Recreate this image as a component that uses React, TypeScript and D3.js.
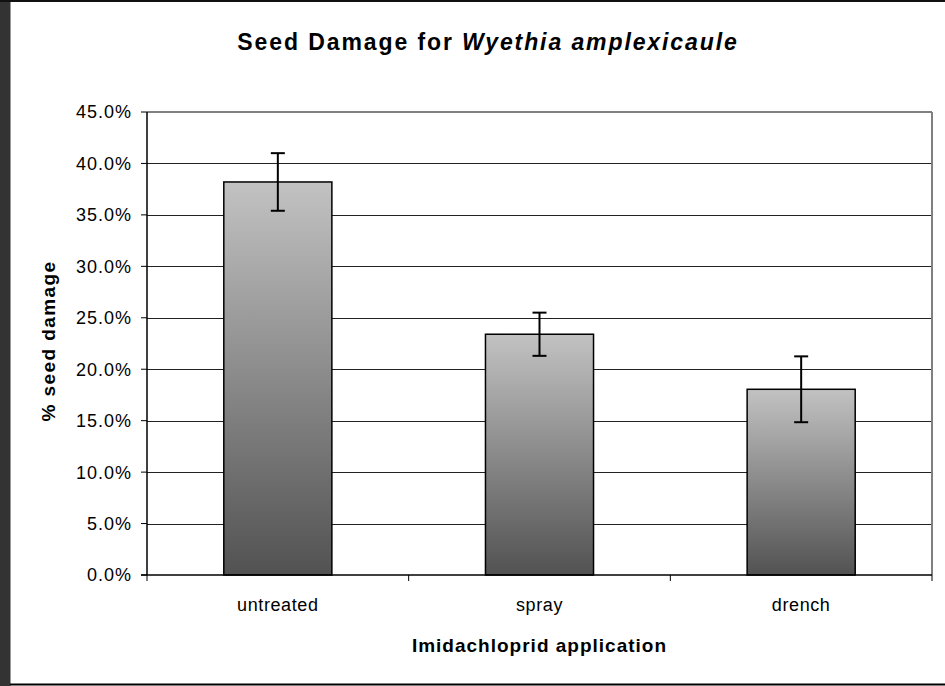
import React from "react";
import * as d3 from "d3";

const categories = ["untreated", "spray", "drench"];
const means = [0.382, 0.234, 0.1805];
const errors = [0.028, 0.021, 0.032];
const yTicks = [0, 0.05, 0.1, 0.15, 0.2, 0.25, 0.3, 0.35, 0.4, 0.45];

const W = 945;
const H = 686;
const plot = { left: 147, right: 932, top: 112, bottom: 575 };
const FONT = "'Liberation Sans', Arial, sans-serif";

export default function App() {
  const x = d3
    .scaleBand<string>()
    .domain(categories)
    .range([plot.left, plot.right])
    .paddingInner(0.587)
    .paddingOuter(0.2935);
  const y = d3.scaleLinear().domain([0, 0.45]).range([plot.bottom, plot.top]);
  const step = (plot.right - plot.left) / categories.length;
  const fmt = (v: number) => (v * 100).toFixed(1) + "%";
  const capW = 14;

  return (
    <svg
      width={W}
      height={H}
      style={{ position: "absolute", left: 0, top: 0, background: "#fff" }}
    >
      <defs>
        <linearGradient id="barGrad" x1="0" y1="0" x2="0" y2="1">
          <stop offset="0%" stopColor="#c2c2c2" />
          <stop offset="100%" stopColor="#525252" />
        </linearGradient>
      </defs>
      <rect x={0} y={0} width={W} height={H} fill="#fff" />
      <rect x={0} y={0} width={10} height={H} fill="#333" />
      <line x1={10.5} y1={0} x2={10.5} y2={H} stroke="#999" strokeWidth={1} />
      <rect x={0} y={0} width={W} height={2} fill="#111" />
      <line x1={10} y1={684.5} x2={W} y2={684.5} stroke="#000" strokeWidth={2} />

      {/* gridlines */}
      {yTicks.slice(1, -1).map((t) => (
        <line
          key={t}
          x1={plot.left}
          x2={plot.right}
          y1={Math.round(y(t)) + 0.5}
          y2={Math.round(y(t)) + 0.5}
          stroke="#222"
          strokeWidth={1}
        />
      ))}
      {/* plot border top/right */}
      <line x1={plot.left} x2={plot.right} y1={plot.top} y2={plot.top} stroke="#808080" strokeWidth={2} />
      <line x1={plot.right} x2={plot.right} y1={plot.top} y2={plot.bottom} stroke="#808080" strokeWidth={2} />

      {/* bars */}
      {categories.map((c, i) => (
        <rect
          key={c}
          x={x(c)}
          y={y(means[i])}
          width={x.bandwidth()}
          height={y(0) - y(means[i])}
          fill="url(#barGrad)"
          stroke="#000"
          strokeWidth={1.5}
        />
      ))}

      {/* error bars */}
      {categories.map((c, i) => {
        const cx = (x(c) as number) + x.bandwidth() / 2;
        const hi = y(means[i] + errors[i]);
        const lo = y(means[i] - errors[i]);
        return (
          <g key={c} stroke="#000" strokeWidth={2}>
            <line x1={cx} x2={cx} y1={hi} y2={lo} />
            <line x1={cx - capW / 2} x2={cx + capW / 2} y1={hi} y2={hi} />
            <line x1={cx - capW / 2} x2={cx + capW / 2} y1={lo} y2={lo} />
          </g>
        );
      })}

      {/* axes */}
      <line x1={plot.left} x2={plot.left} y1={plot.top} y2={plot.bottom} stroke="#000" strokeWidth={1.5} />
      <line x1={plot.left - 6} x2={plot.right} y1={plot.bottom} y2={plot.bottom} stroke="#000" strokeWidth={1.5} />
      {yTicks.map((t) => (
        <g key={t}>
          <line x1={plot.left - 6} x2={plot.left} y1={y(t)} y2={y(t)} stroke="#000" strokeWidth={1} />
          <text
            x={132}
            y={y(t)}
            dy="0.36em"
            textAnchor="end"
            fontFamily={FONT}
            fontSize={18}
            letterSpacing={1}
            fill="#000"
          >
            {fmt(t)}
          </text>
        </g>
      ))}
      {d3.range(categories.length + 1).map((i) => (
        <line
          key={i}
          x1={plot.left + i * step}
          x2={plot.left + i * step}
          y1={plot.bottom}
          y2={plot.bottom + 6}
          stroke="#000"
          strokeWidth={1}
        />
      ))}
      {categories.map((c) => (
        <text
          key={c}
          x={(x(c) as number) + x.bandwidth() / 2}
          y={611}
          textAnchor="middle"
          fontFamily={FONT}
          fontSize={18}
          letterSpacing={0.6}
          fill="#000"
        >
          {c}
        </text>
      ))}

      {/* titles */}
      <text x={488} y={50} textAnchor="middle" fontFamily={FONT} fontSize={23} fontWeight="bold" letterSpacing={1.9}>
        Seed Damage for <tspan fontStyle="italic">Wyethia amplexicaule</tspan>
      </text>
      <text
        x={(plot.left + plot.right) / 2}
        y={652}
        textAnchor="middle"
        fontFamily={FONT}
        fontSize={19}
        fontWeight="bold"
        letterSpacing={1}
      >
        Imidachloprid application
      </text>
      <text
        transform={`translate(55, 341) rotate(-90)`}
        textAnchor="middle"
        fontFamily={FONT}
        fontSize={19}
        fontWeight="bold"
        letterSpacing={1.4}
      >
        % seed damage
      </text>
    </svg>
  );
}
